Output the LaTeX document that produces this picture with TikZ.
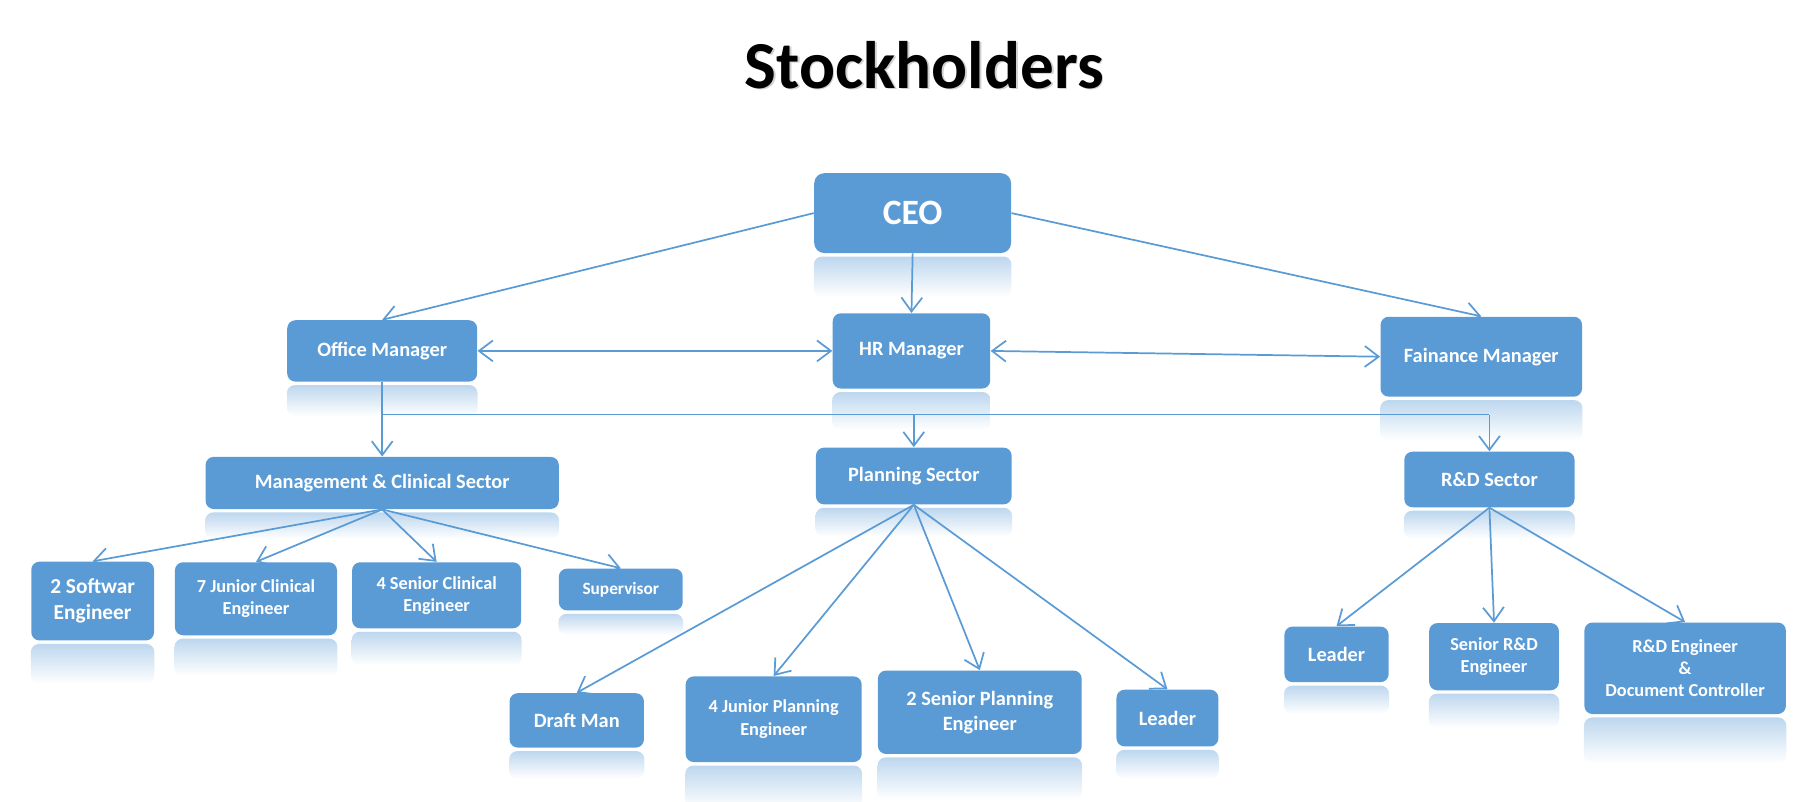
\documentclass[tikz,border=0pt]{standalone}
\usepackage{fontspec}
\setmainfont{Carlito}
\usetikzlibrary{arrows.meta, calc, backgrounds}
\definecolor{boxblue}{HTML}{5B9BD5}
\newcommand\fsz[1]{\fontsize{#1}{\fpeval{1.22*#1}}\selectfont}

\begin{document}
\begin{tikzpicture}[
        x=0.02cm, y=-0.02cm,
        box/.style={fill=boxblue, rounded corners=4pt, text=white, align=center, inner sep=0pt, font=\bfseries\fsz{#1}},
        box/.default=10,
        sz/.style 2 args={minimum width=#1*0.02cm, minimum height=#2*0.02cm},
        link/.style={draw=boxblue, line width=0.85pt, -{Straight Barb[length=2.4mm, width=3.6mm]}},
        twoway/.style={link, {Straight Barb[length=2.4mm, width=3.6mm]}-{Straight Barb[length=2.4mm, width=3.6mm]}},
        busline/.style={draw=boxblue, line width=0.85pt}]

    \useasboundingbox (0,0) rectangle (1568,692);

    % title
    \node[text=black!18, font=\bfseries\fsz{33}] (titleshadow) at (799.5,57.5) {Stockholders};
    \node[font=\bfseries\fsz{33}] (title) at (798,56) {Stockholders};

    % top level
    \node[box=17.5, sz={170}{69}, rounded corners=5pt] (ceo) at (788,184) {CEO};
    \node[box, sz={164}{53}] (office) at (330,303) {Office Manager};
    \node[box, sz={136}{65}] (hr) at (787,303) {HR Manager};
    \node[box, sz={174}{69}] (finance) at (1279,308) {Fainance Manager};

    % sectors
    \node[box, sz={305}{45}] (mgmt) at (330,417) {Management \& Clinical Sector};
    \node[box, sz={169}{49}] (planning) at (789,411) {Planning Sector};
    \node[box, sz={147}{48}] (rnd) at (1286,414) {R\&D Sector};

    % management staff
    \node[box=10.5, sz={106}{68}] (soft) at (80,519) {2 Softwar\\Engineer};
    \node[box=9, sz={140}{63}] (jclin) at (221,517) {7 Junior Clinical\\Engineer};
    \node[box=9, sz={146}{57}] (sclin) at (377,514) {4 Senior Clinical\\Engineer};
    \node[box=8.5, sz={107}{36}] (superv) at (536,509) {Supervisor};

    % planning staff
    \node[box, sz={116}{47}] (draft) at (498,622) {Draft Man};
    \node[box=9, sz={152}{74}] (jplan) at (668,621) {4 Junior Planning\\Engineer};
    \node[box, sz={176}{72}] (splan) at (846,615) {2 Senior Planning\\Engineer};
    \node[box, sz={88}{49}] (pleader) at (1008,620) {Leader};

    % R&D staff
    \node[box, sz={90}{48}] (rleader) at (1154,565) {Leader};
    \node[box=9, sz={112}{58}] (srnd) at (1290,567) {Senior R\&D\\Engineer};
    \node[box=9, sz={174}{79}] (rndeng) at (1455,577) {R\&D Engineer\\\&\\Document Controller};

    % reflections
    \begin{scope}[on background layer]
        \foreach \nd in {ceo, office, hr, finance, mgmt, planning, rnd, soft, jclin, sclin, superv, draft, jplan, splan, pleader, rleader, srnd, rndeng}
            \shade[top color=boxblue!40, bottom color=white, rounded corners=4pt]
                let \p1=($(\nd.south)-(\nd.north)$) in
                ($(\nd.south west)+(0pt,-1.5pt)$) rectangle ($(\nd.south east)+(0pt,{0.5*\y1-1.5pt})$);
    \end{scope}

    % links from the CEO
    \draw[link] (ceo.west) -- (office.north);
    \draw[link] (ceo.south) -- (hr.north);
    \draw[link] (ceo.east) -- (finance.north);
    \draw[twoway] (office.east) -- (hr.west);
    \draw[twoway] (hr.east) -- (finance.west);

    % bus to the sectors
    \draw[link] (office.south) -- (mgmt.north);
    \coordinate (busl) at (330,358);
    \coordinate (busr) at (rnd.north |- busl);
    \draw[busline] (busl) -- (busr);
    \draw[link] (busr) -- (rnd.north);
    \draw[link] (planning.north |- busl) -- (planning.north);

    % sector staff
    \foreach \kid in {soft, jclin, sclin, superv}
        \draw[link] (mgmt.south) -- (\kid.north);
    \foreach \kid in {draft, jplan, splan, pleader}
        \draw[link] (planning.south) -- (\kid.north);
    \foreach \kid in {rleader, srnd, rndeng}
        \draw[link] (rnd.south) -- (\kid.north);
\end{tikzpicture}
\end{document}
